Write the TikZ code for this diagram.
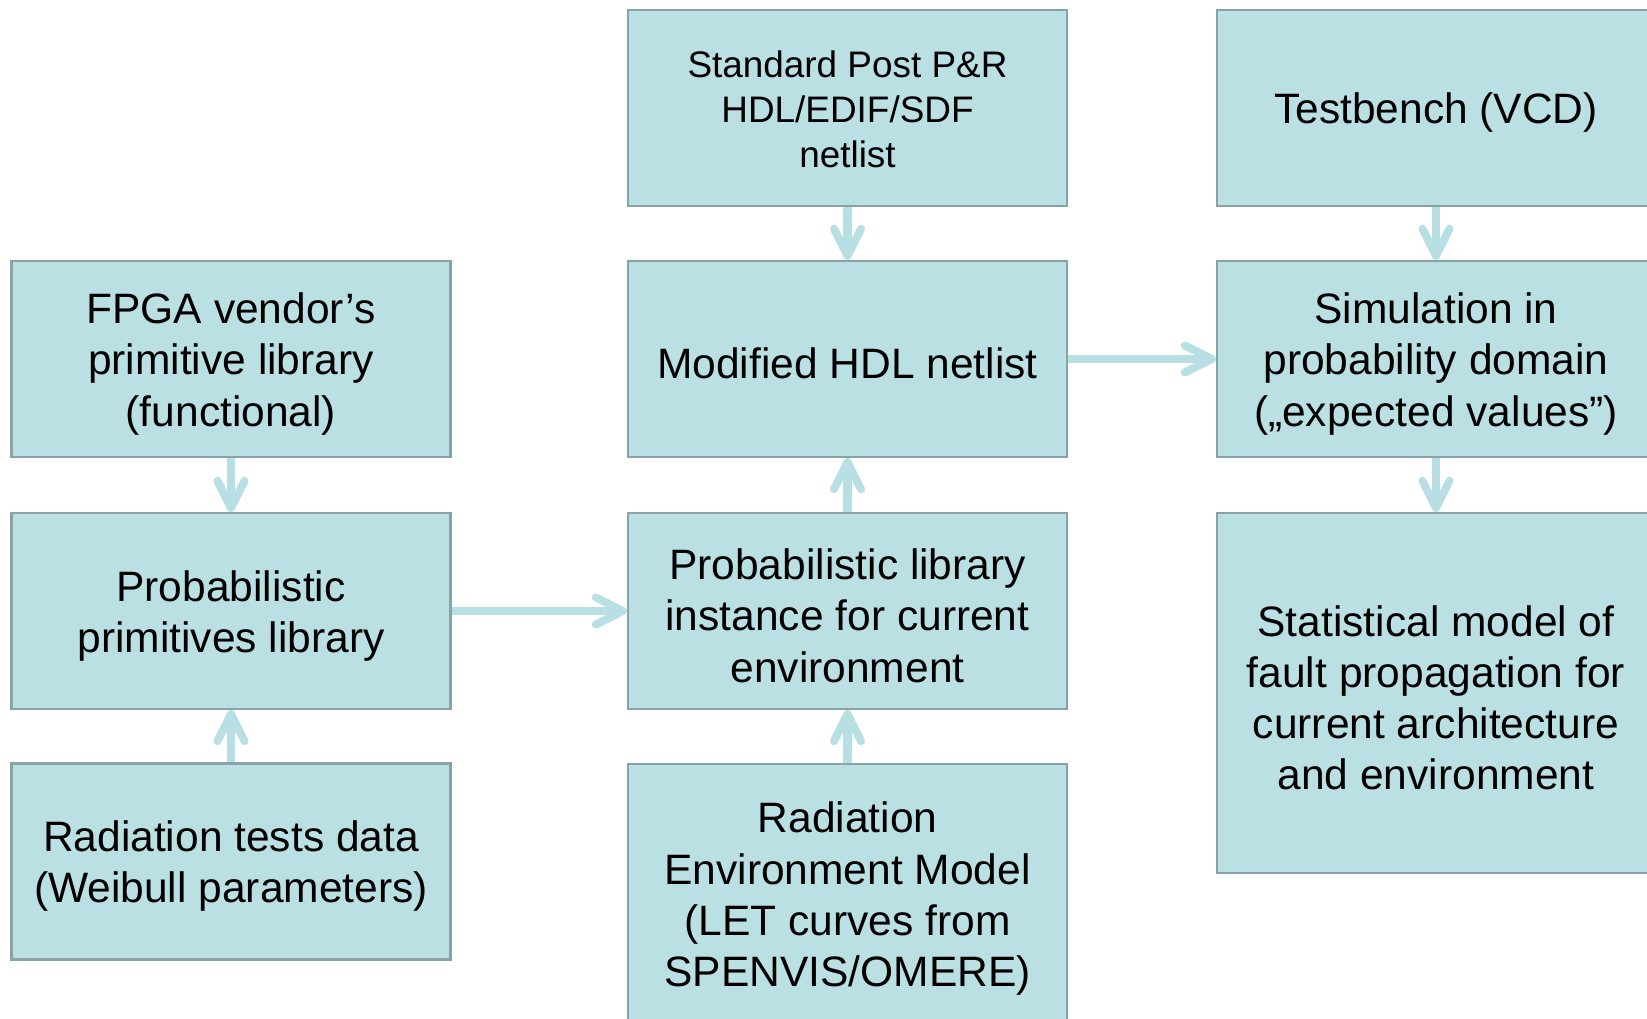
\documentclass[tikz,border=0pt]{standalone}
\usepackage{fontspec}
\setmainfont{Liberation Sans}
\usepackage{xcolor}
\usetikzlibrary{arrows.meta}

\definecolor{boxfill}{RGB}{187,224,227}
\definecolor{boxline}{RGB}{135,163,166}
\definecolor{flowc}{RGB}{184,223,227}

\begin{document}
\begin{tikzpicture}[
  block/.style = {draw = boxline, fill = boxfill, line width = 0.6pt,
    text width = 4.3cm, align = flush center,
    minimum width = 4.39cm, minimum height = 1.96cm, inner sep = 0pt,
    font = \fontsize{12.1}{14.6}\selectfont,
    execute at begin node = {\rule{0pt}{11.5pt}}},
  flow/.style = {draw = flowc, line width = 2.3pt,
    -{Straight Barb[length = 0.27cm, width = 0.27cm, round]}}
]
\clip (0, 0) rectangle (16.47, 10.19);
% left column
\node [block] (fpga) at (2.31, 6.60) {FPGA vendor’s\\primitive library\\(functional)};
\node [block] (primlib) at (2.31, 4.08) {Probabilistic\\primitives library};
\node [block] (radtests) at (2.31, 1.575) {Radiation tests data\\(Weibull parameters)};
% middle column
\node [block, font = \fontsize{10.5}{12.8}\selectfont,
  execute at begin node = {}, execute at end node = {\par\vspace*{3pt}}] (netlist) at (8.475, 9.11) {Standard Post P\&R\\HDL/EDIF/SDF\\netlist};
\node [block] (modhdl) at (8.475, 6.60) {Modified HDL netlist};
\node [block] (problib) at (8.475, 4.08) {Probabilistic library\\instance for current\\environment};
\node [block, minimum height = 2.60cm] (radenv) at (8.475, 1.25) {Radiation\\Environment Model\\(LET curves from\\SPENVIS/OMERE)};
% right column
\node [block, minimum width = 4.38cm] (testbench) at (14.36, 9.11) {Testbench (VCD)};
\node [block, minimum width = 4.38cm] (sim) at (14.36, 6.60) {Simulation in\\probability domain\\(„expected values”)};
\node [block, minimum width = 4.38cm, minimum height = 3.60cm] (stats) at (14.36, 3.26) {Statistical model of\\fault propagation for\\current architecture\\and environment};
% flows
\draw [flow] (fpga) -- (primlib);
\draw [flow] (radtests) -- (primlib);
\draw [flow] (primlib) -- (problib);
\draw [flow] (netlist) -- (modhdl);
\draw [flow] (problib) -- (modhdl);
\draw [flow] (radenv) -- (problib);
\draw [flow] (modhdl) -- (sim);
\draw [flow] (testbench) -- (sim);
\draw [flow] (sim) -- (stats);
\end{tikzpicture}
\end{document}
